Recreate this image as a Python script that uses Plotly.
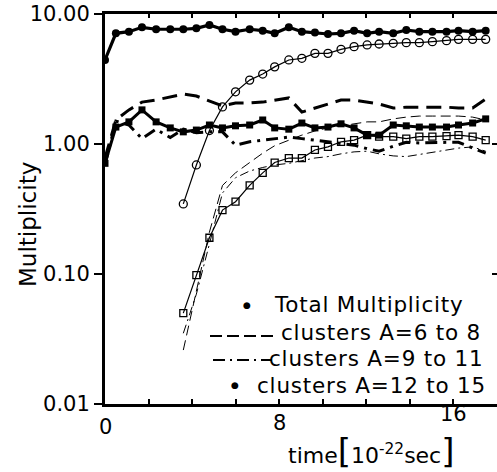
import plotly.graph_objects as go

# time grid [10^-22 sec]
times = [0.0, 0.5, 1.1, 1.7, 2.35, 3.0, 3.6, 4.2, 4.8, 5.4, 6.0, 6.65, 7.25, 7.8, 8.45,
         9.05, 9.65, 10.25, 10.85, 11.45, 12.05, 12.6, 13.25, 13.85, 14.45, 15.05,
         15.7, 16.25, 16.9, 17.5]
late_times = times[6:]

total_mult = [4.43, 7.1, 7.31, 7.9, 7.63, 7.63, 7.63, 7.76, 8.23, 7.63, 7.31, 7.63, 7.44, 7.1,
              7.9, 7.31, 7.2, 7.02, 7.1, 7.44, 7.1, 7.31, 7.1, 7.53, 7.31, 7.31, 7.31, 7.44,
              7.31, 7.44]
clusters_6_8 = [0.78, 1.53, 1.83, 2.1, 2.18, 2.3, 2.42, 2.34, 2.14, 1.96, 2.07, 2.07, 2.1, 2.18,
                2.26, 1.76, 1.89, 2.03, 2.18, 2.18, 2.1, 2.03, 1.89, 1.92, 1.92, 1.92, 1.92,
                1.89, 1.89, 2.22]
clusters_9_11 = [0.69, 1.5, 1.4, 1.1, 1.3, 1.12, 1.3, 1.22, 1.24, 1.24, 0.98, 1.04, 1.07, 1.1,
                 1.13, 1.1, 1.07, 1.03, 1.0, 0.98, 0.92, 0.88, 0.96, 1.03, 1.02, 1.03, 1.03,
                 1.03, 0.93, 0.85]
clusters_12_15 = [0.71, 1.35, 1.48, 1.83, 1.48, 1.33, 1.24, 1.28, 1.40, 1.33, 1.38, 1.40, 1.53,
                  1.33, 1.30, 1.45, 1.33, 1.35, 1.43, 1.33, 1.17, 1.17, 1.40, 1.38, 1.35, 1.35,
                  1.35, 1.40, 1.45, 1.56]
late_open_circles = [0.346, 0.69, 1.27, 1.93, 2.52, 3.1, 3.45, 3.92, 4.43, 4.56, 4.98, 4.98,
                     5.35, 5.61, 5.78, 5.88, 5.95, 6.02, 6.02, 6.13, 6.24, 6.38, 6.38, 6.38]
late_open_squares = [0.05, 0.098, 0.19, 0.31, 0.36, 0.48, 0.60, 0.72, 0.78, 0.78, 0.90, 0.95,
                     1.04, 1.07, 1.17, 1.14, 1.14, 1.10, 1.14, 1.14, 1.15, 1.17, 1.14, 1.07]
late_dashed = [0.026, 0.075, 0.21, 0.48, 0.6, 0.72, 0.85, 0.97, 1.07, 1.17, 1.26, 1.33, 1.38,
               1.43, 1.48, 1.48, 1.56, 1.61, 1.64, 1.64, 1.64, 1.64, 1.61, 1.53]
late_dashdot = [0.035, 0.07, 0.17, 0.42, 0.55, 0.62, 0.66, 0.69, 0.71, 0.74, 0.78, 0.8, 0.84,
                0.87, 0.88, 0.84, 0.81, 0.8, 0.83, 0.86, 0.9, 0.93, 0.95, 0.88]

y_tickvals = [0.01, 0.1, 1, 10]
y_ticktext = ["0.01", "0.10", "1.00", "10.00"]
x_ticklabels = [0, 8, 16]
legend_labels = ["Total Multiplicity", "clusters A=6 to 8", "clusters A=9 to 11",
                 "clusters A=12 to 15"]

FONT = "DejaVu Sans"
K = "black"

fig = go.Figure()
fig.add_trace(go.Scatter(x=late_times, y=late_dashdot, mode="lines",
                         line=dict(color=K, width=1, dash="9px,4px,2px,4px")))
fig.add_trace(go.Scatter(x=late_times, y=late_dashed, mode="lines",
                         line=dict(color=K, width=1, dash="10px,5px")))
fig.add_trace(go.Scatter(x=late_times, y=late_open_squares, mode="lines+markers",
                         line=dict(color=K, width=1.2),
                         marker=dict(symbol="square-open", size=7, color=K, line=dict(width=1.3))))
fig.add_trace(go.Scatter(x=late_times, y=late_open_circles, mode="lines+markers",
                         line=dict(color=K, width=1.2),
                         marker=dict(symbol="circle-open", size=8, color=K, line=dict(width=1.3))))
fig.add_trace(go.Scatter(x=times, y=clusters_6_8, mode="lines",
                         line=dict(color=K, width=3, dash="15px,8px")))
fig.add_trace(go.Scatter(x=times, y=clusters_9_11, mode="lines",
                         line=dict(color=K, width=3, dash="12px,6px,3px,6px")))
fig.add_trace(go.Scatter(x=times, y=clusters_12_15, mode="lines+markers",
                         line=dict(color=K, width=3),
                         marker=dict(symbol="square", size=7, color=K)))
fig.add_trace(go.Scatter(x=times, y=total_mult, mode="lines+markers",
                         line=dict(color=K, width=3.2),
                         marker=dict(symbol="circle", size=8, color=K)))
# helper trace to show top/right tick axes
fig.add_trace(go.Scatter(x=[None], y=[None], xaxis="x2", yaxis="y2", showlegend=False))

XR = [0, 18.02]
fig.update_layout(
    width=497, height=472,
    margin=dict(l=105, r=0, t=14, b=68),
    plot_bgcolor="white", paper_bgcolor="white",
    showlegend=False,
    font=dict(family=FONT, color=K),
    xaxis=dict(range=XR, showgrid=False, zeroline=False, showline=True, linewidth=3,
               linecolor=K, ticks="inside", dtick=2, tick0=0, ticklen=5, tickwidth=2,
               tickcolor=K, showticklabels=False),
    xaxis2=dict(range=XR, overlaying="x", side="top", showgrid=False, zeroline=False,
                showline=True, linewidth=3, linecolor=K, ticks="inside", dtick=2, tick0=0,
                ticklen=4, tickwidth=1.5, tickcolor=K, showticklabels=False),
    yaxis=dict(type="log", range=[-2, 1], showgrid=False, zeroline=False, showline=True,
               linewidth=3, linecolor=K, ticks="outside", ticklen=8, tickwidth=2,
               tickcolor=K, tickvals=y_tickvals, ticktext=y_ticktext,
               tickfont=dict(size=21, family=FONT)),
    yaxis2=dict(type="log", range=[-2, 1], overlaying="y", side="right", showgrid=False,
                zeroline=False, showline=False, ticks="inside", ticklen=5, tickwidth=1.5,
                tickcolor=K, tickvals=y_tickvals, showticklabels=False),
)

# x tick labels
label_y = {0: 427, 8: 423, 16: 414}
for v in x_ticklabels:
    fig.add_annotation(x=v, y=(404 - label_y[v]) / 390, xref="x", yref="paper",
                       text=str(v), showarrow=False, font=dict(size=21, family=FONT),
                       xanchor="center", yanchor="middle")


def px(xp):
    return (xp - 105) / 392


def py(yp):
    return (404 - yp) / 390


# axis titles
fig.add_annotation(x=px(371), y=py(451), xref="paper", yref="paper",
                   text="time<span style='font-size:34px'>[</span>10<sup>-22</sup>sec"
                        "<span style='font-size:34px'>]</span>",
                   showarrow=False, font=dict(size=22, family=FONT),
                   xanchor="center", yanchor="middle")
fig.add_annotation(x=px(28), y=py(225), xref="paper", yref="paper",
                   text="Multiplicity", textangle=-90, showarrow=False,
                   font=dict(size=23, family=FONT), xanchor="center", yanchor="middle")

# legend text (centred where the reference places each row)
rows_cx = [369, 381, 376, 371]
rows_y = [304, 332, 358, 385]
for lbl, cx, ry in zip(legend_labels, rows_cx, rows_y):
    fig.add_annotation(x=px(cx), y=py(ry), xref="paper", yref="paper",
                       text="<span style='letter-spacing:0.8px'>" + lbl + "</span>",
                       showarrow=False, font=dict(size=21.5, family=FONT),
                       xanchor="center", yanchor="middle")
# bullets
for bx, ry in [(247, 305), (235, 385)]:
    fig.add_annotation(x=px(bx), y=py(ry), xref="paper", yref="paper", text="●",
                       showarrow=False, font=dict(size=9, family=FONT),
                       xanchor="center", yanchor="middle")
# legend line samples
fig.add_shape(type="line", xref="paper", yref="paper", x0=px(210), x1=px(277),
              y0=py(336), y1=py(336), line=dict(color=K, width=2, dash="12px,5px"))
fig.add_shape(type="line", xref="paper", yref="paper", x0=px(213), x1=px(272),
              y0=py(360), y1=py(360), line=dict(color=K, width=2, dash="12px,5px,2px,5px"))

fig.write_html("out.html")
